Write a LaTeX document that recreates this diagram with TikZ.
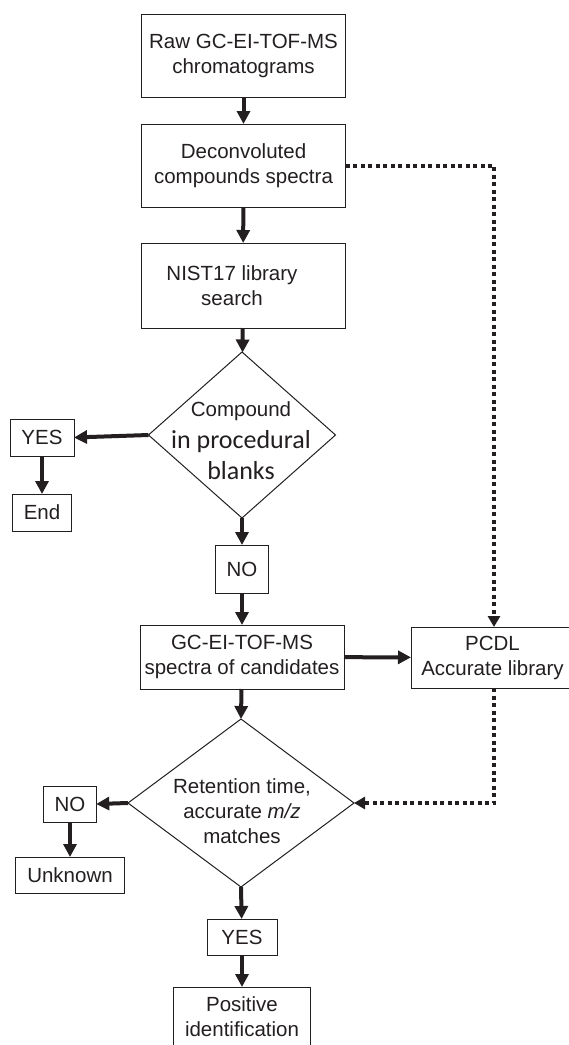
\documentclass[tikz,border=0pt]{standalone}
\usepackage{fontspec}
\setmainfont{Liberation Sans}
\newfontfamily\calibrifont{Carlito}
\usetikzlibrary{shapes.geometric,arrows.meta}
\definecolor{ink}{HTML}{231F20}

\begin{document}
\begin{tikzpicture}[x=1pt, y=-1pt,
    font=\fontsize{20.5}{25}\selectfont,
    box/.style={draw=ink, line width=1pt, inner sep=0pt, outer sep=0pt, align=center, text=ink},
    decision/.style={draw=ink, line width=1pt, diamond, inner sep=0pt, outer sep=0pt},
    flow/.style={draw=ink, line width=4pt, -{Triangle[length=13pt,width=13pt]}},
    libflow/.style={draw=ink, line width=4pt, dash pattern=on 4pt off 3.5pt, -{Triangle[length=11pt,width=12pt]}}]

        \useasboundingbox (0,0) rectangle (569,1045);

        %Raw data
        \node [box, minimum width=204pt, minimum height=83pt] (raw) at (243.5,55.5)
          {Raw GC-EI-TOF-MS\\chromatograms};
        %Deconvolution
        \node [box, minimum width=204pt, minimum height=83pt] (deconv) at (243.5,165.5)
          {Deconvoluted\\compounds spectra};
        %NIST search
        \node [box, minimum width=204pt, minimum height=85pt] (nist) at (243,285.5)
          {NIST17 library\hspace*{22pt}\\search\hspace*{22pt}};
        %Blank check
        \node [decision, minimum width=187pt, minimum height=166pt] (blank) at (242,435) {};
        \node [align=center, text=ink, font=\calibrifont\fontsize{26}{31.5}\selectfont] (blanktext) at (241,441)
          {\rmfamily\fontsize{20.5}{25}\selectfont Compound\\in procedural\\blanks};
        \node [box, minimum width=64pt, minimum height=37pt] (yesblank) at (42,437.5) {YES};
        \node [box, minimum width=59pt, minimum height=37pt] (end) at (42,512.5) {End};
        \node [box, minimum width=53pt, minimum height=48pt] (noblank) at (242,569) {NO};
        %Candidates
        \node [box, minimum width=204pt, minimum height=64pt] (cand) at (242,657) 
          {GC-EI-TOF-MS\\spectra of candidates};
        \node [box, minimum width=163pt, minimum height=61pt] (pcdl) at (492.5,657.5)
          {PCDL\\Accurate library};
        %Match check
        \node [decision, minimum width=226pt, minimum height=168pt] (match) at (241,803) {};
        \node [align=center, text=ink] (matchtext) at (242,811)
          {Retention time,\\accurate \textit{m/z}\\matches};
        \node [box, minimum width=52.5pt, minimum height=36pt] (nomatch) at (70,804) {NO};
        \node [box, minimum width=109pt, minimum height=36pt] (unknown) at (70,875) {Unknown};
        \node [box, minimum width=70pt, minimum height=36pt] (yesmatch) at (242,937) {YES};
        \node [box, minimum width=137pt, minimum height=60pt] (positive) at (242,1017)
          {Positive\\identification};

        %Arrows
        \draw [flow] (raw) -- (deconv);
        \draw [flow] (deconv) -- (nist);
        \draw [flow] (nist) -- (blank);
        \draw [flow] (blank.west) -- (yesblank.east);
        \draw [flow] (yesblank) -- (end);
        \draw [flow] (blank.south) -- (noblank);
        \draw [flow] (noblank) -- (cand);
        \draw [flow] (cand) -- (pcdl);
        \draw [flow] (cand) -- (match.north);
        \draw [flow] (match.west) -- (nomatch.east);
        \draw [flow] (nomatch) -- (unknown);
        \draw [flow] (match.south) -- (yesmatch);
        \draw [flow] (yesmatch) -- (positive);
        %Library route
        \coordinate (lib) at (494,0);
        \draw [libflow] (deconv.east) -- (deconv.east -| lib) -- (pcdl.north -| lib);
        \draw [libflow] (pcdl.south -| lib) -- (match.east -| lib) -- (match.east);
        \end{tikzpicture}
\end{document}
